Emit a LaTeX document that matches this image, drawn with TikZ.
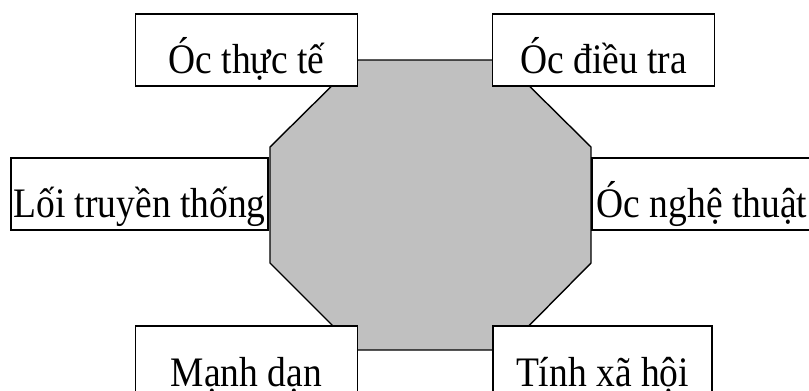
\documentclass[tikz,border=0pt]{standalone}
\usepackage{fontspec}
\setmainfont{Liberation Serif}
\usepackage{graphicx}
\definecolor{hubgray}{RGB}{192,192,192}
\newcommand{\vstretch}[1]{\scalebox{1}[1.12]{#1}}
\tikzset{
    traitbox/.style={rectangle, draw=black, fill=white, line width=1.6pt, inner sep=0pt, minimum width=222pt, minimum height=72pt, text height=48pt, text depth=2pt, font=\fontsize{37.5}{40}\selectfont},
    hubshape/.style={fill=hubgray, draw=black, line width=1.4pt, line join=miter}
}

\begin{document}
\begin{tikzpicture}[x=1pt, y=-1pt]
    \clip (0,0) rectangle (809,391);
    % Central octagon
    \coordinate (h1) at (358,60);
    \coordinate (h2) at (503,60);
    \coordinate (h3) at (591,147);
    \coordinate (h4) at (591,263);
    \coordinate (h5) at (505,350);
    \coordinate (h6) at (357,350);
    \coordinate (h7) at (270,263);
    \coordinate (h8) at (270,147);
    \draw[hubshape] (h1) -- (h2) -- (h3) -- (h4) -- (h5) -- (h6) -- (h7) -- (h8) -- cycle;
    
    % Trait boxes
    \node[traitbox] (thucte) at (246.5,50) {\vstretch{Óc thực tế}};
    \node[traitbox] (dieutra) at (603.5,50) {\vstretch{Óc điều tra}};
    \node[traitbox, minimum width=257pt] (truyenthong) at (139.5,194) {\vstretch{Lối truyền thống}};
    \node[traitbox, minimum width=220pt] (nghethuat) at (702,194) {\vstretch{Óc nghệ thuật}};
    \node[traitbox, text height=50pt] (manhdan) at (246.5,362) {\vstretch{Mạnh dạn}};
    \node[traitbox, text height=50pt, minimum width=219pt] (xahoi) at (602.5,362) {\vstretch{Tính xã hội}};
\end{tikzpicture}
\end{document}
